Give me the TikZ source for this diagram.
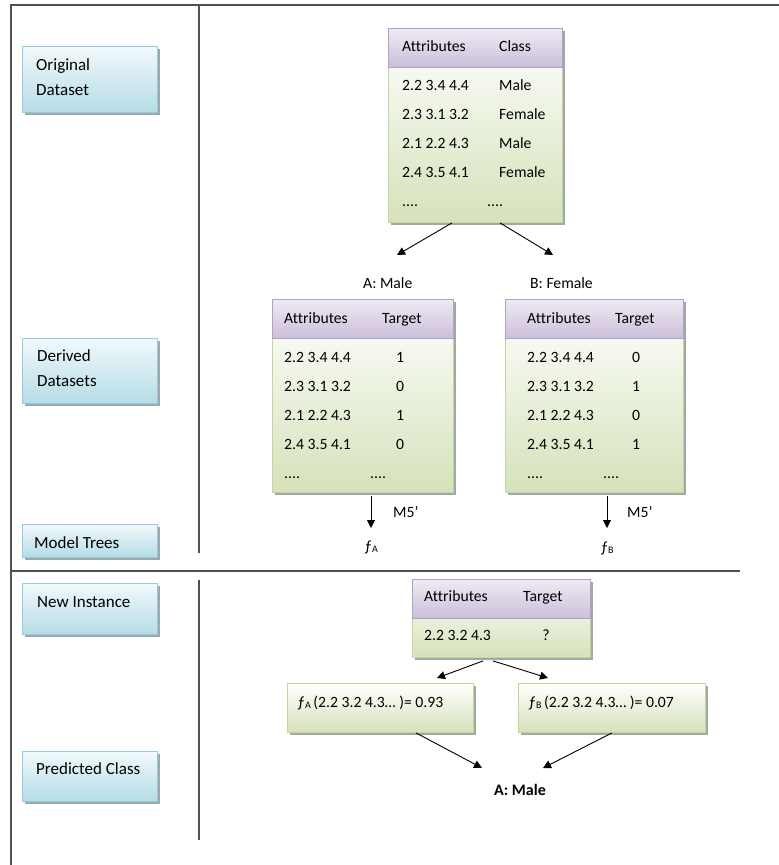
\documentclass[tikz,border=0pt]{standalone}
\usepackage{fontspec}
\setmainfont[Ligatures=NoCommon]{Carlito}
\usetikzlibrary{calc,arrows.meta,shadows}
\definecolor{lblTop}{HTML}{F2F9FB}
\definecolor{lblBot}{HTML}{B5DCE7}
\definecolor{lblLine}{HTML}{92CDDC}
\definecolor{hdTop}{HTML}{EEEAF3}
\definecolor{hdBot}{HTML}{CBBFD9}
\definecolor{hdLine}{HTML}{B2A1C7}
\definecolor{bdTop}{HTML}{FFFFFF}
\definecolor{bdBot}{HTML}{D5E2BA}
\definecolor{bdLine}{HTML}{C3D69B}
\definecolor{shd}{HTML}{A0A8AA}
\definecolor{frameCol}{HTML}{505050}
\newcommand\mytable[6]{%
  \node[tbody, minimum width=#4, minimum height=#5] (#1) at (#2,#3) {};
  \node[thead, minimum width=#4, minimum height=#6] (#1h) at (#2,#3) {};
}
\newcommand\fsub[1]{ƒ\raisebox{-1pt}{\fontsize{10}{10}\selectfont #1}}
\begin{document}
\begin{tikzpicture}[x=1pt,y=-1pt,
  font=\fontsize{15.7}{19}\selectfont,
  frameline/.style={draw=frameCol, line width=1.5pt},
  lbl/.style={draw=lblLine, line width=0.9pt, top color=lblTop, bottom color=lblBot,
    anchor=north west, inner sep=0pt,
    drop shadow={shadow xshift=2.2pt,shadow yshift=-2.2pt,fill=shd,opacity=1}},
  lbltext/.style={anchor=base west, inner sep=0pt, align=left, font=\fontsize{17}{20}\selectfont},
  tbody/.style={draw=bdLine, line width=0.9pt, top color=bdTop, bottom color=bdBot,
    anchor=north west, inner sep=0pt,
    drop shadow={shadow xshift=2.2pt,shadow yshift=-2.2pt,fill=shd,opacity=1}},
  thead/.style={draw=hdLine, line width=0.9pt, top color=hdTop, bottom color=hdBot,
    anchor=north west, inner sep=0pt},
  cell/.style={anchor=base west, inner sep=0pt},
  cellc/.style={anchor=base, inner sep=0pt},
  arr/.style={draw=black, line width=0.9pt, -{Triangle[length=8pt,width=8pt]}}
]
\useasboundingbox (0,0) rectangle (779,865);
% frame
\draw[frameline] (11,865) -- (11,5) -- (779,5);
\draw[frameline] (199,5) -- (199,553);
\draw[frameline] (11,571) -- (740,571);
\draw[frameline] (199,580) -- (199,840);

% left labels
\node[lbl, minimum width=135, minimum height=66] (lOrig) at (22,46) {};
\node[lbltext] (tOrig) at (36,70) {\begin{tabular}[t]{@{}l@{}}Original\\[5pt]Dataset\end{tabular}};
\node[lbl, minimum width=135, minimum height=65] (lDer) at (22,338) {};
\node[lbltext] (tDer) at (37,361) {\begin{tabular}[t]{@{}l@{}}Derived\\[5pt]Datasets\end{tabular}};
\node[lbl, minimum width=135, minimum height=33] (lMod) at (22,524) {};
\node[lbltext] (tMod) at (34,548) {Model Trees};
\node[lbl, minimum width=135, minimum height=51] (lNew) at (22,583) {};
\node[lbltext] (tNew) at (37,607) {New Instance};
\node[lbl, minimum width=135, minimum height=50] (lPred) at (22,751) {};
\node[lbltext] (tPred) at (36,774) {Predicted Class};

% original table
\mytable{tO}{388}{28}{174}{194}{39}
\node[cell] (tOa) at (402,51) {Attributes};
\node[cell] (tOc) at (499,51) {Class};
\foreach \a/\c [count=\i] in {2.2 3.4 4.4/Male, 2.3 3.1 3.2/Female, 2.1 2.2 4.3/Male, 2.4 3.5 4.1/Female}{
  \node[cell] (tO-a\i) at (402,{61+29*\i}) {\a};
  \node[cell] (tO-c\i) at (499,{61+29*\i}) {\c};
}
\node[cell] (tO-a5) at (402,206) {....};
\node[cell] (tO-c5) at (487,206) {....};

% split labels
\node[cell] (labA) at (363,288) {A: Male};
\node[cell] (labB) at (530,288) {B: Female};
\coordinate (eA) at (397,255);
\coordinate (eB) at (553,255);
\draw[arr] ($(tO.south west)+(64,0)$) -- (eA);
\draw[arr] ($(tO.south west)+(112,0)$) -- (eB);

% table A
\mytable{tA}{272}{299}{181}{193}{39}
\node[cell] (tAa) at (284,323) {Attributes};
\node[cell] (tAt) at (382,323) {Target};
\foreach \a/\c [count=\i] in {2.2 3.4 4.4/1, 2.3 3.1 3.2/0, 2.1 2.2 4.3/1, 2.4 3.5 4.1/0}{
  \node[cell] (tA-a\i) at (284,{333+29*\i}) {\a};
  \node[cellc] (tA-c\i) at (400,{333+29*\i}) {\c};
}
\node[cell] (tA-a5) at (284,478) {....};
\node[cell] (tA-c5) at (370,478) {....};

% table B
\mytable{tB}{505}{299}{178}{193}{39}
\node[cell] (tBa) at (527,323) {Attributes};
\node[cell] (tBt) at (615,323) {Target};
\foreach \a/\c [count=\i] in {2.2 3.4 4.4/0, 2.3 3.1 3.2/1, 2.1 2.2 4.3/0, 2.4 3.5 4.1/1}{
  \node[cell] (tB-a\i) at (527,{333+29*\i}) {\a};
  \node[cellc] (tB-c\i) at (636,{333+29*\i}) {\c};
}
\node[cell] (tB-a5) at (527,478) {....};
\node[cell] (tB-c5) at (603,478) {....};

% model trees
\node[cellc] (fA) at (371,551) {\fsub{A}};
\node[cellc] (fB) at (607,552) {\fsub{B}};
\coordinate (eFA) at (371,528);
\coordinate (eFB) at (607,528);
\draw[arr] (tA.south -| eFA) ++(0,3) -- (eFA);
\draw[arr] (tB.south -| eFB) ++(0,3) -- (eFB);
\node[cell] (mA) at (393,517) {M5’};
\node[cell] (mB) at (627,517) {M5’};

% new instance table
\mytable{tN}{412}{579}{178}{78}{39}
\node[cell] (tNa) at (424,601) {Attributes};
\node[cell] (tNt) at (523,601) {Target};
\node[cell] (tN-a1) at (424,640) {2.2 3.2 4.3};
\node[cellc] (tN-c1) at (546,640) {?};

% predictions
\node[tbody, minimum width=186, minimum height=49] (pA) at (287,683) {};
\node[cell] (pAt) at (297,707) {\fsub{A}\,(2.2 3.2 4.3… )= 0.93};
\node[tbody, minimum width=187, minimum height=49] (pB) at (518,683) {};
\node[cell] (pBt) at (528,707) {\fsub{B}\,(2.2 3.2 4.3… )= 0.07};
\draw[arr] ($(tN.south west)+(71,3)$) -- ($(pA.north west)+(150,-5)$);
\draw[arr] ($(tN.south west)+(81,3)$) -- ($(pB.north west)+(30,-5)$);

\node[cellc, font=\fontsize{16}{19}\selectfont\bfseries] (res) at (520,795) {A: Male};
\coordinate (rA) at (482,768);
\coordinate (rB) at (543,768);
\draw[arr] ($(pA.south west)+(129,0)$) -- (rA);
\draw[arr] ($(pB.south west)+(94,0)$) -- (rB);
\end{tikzpicture}
\end{document}
